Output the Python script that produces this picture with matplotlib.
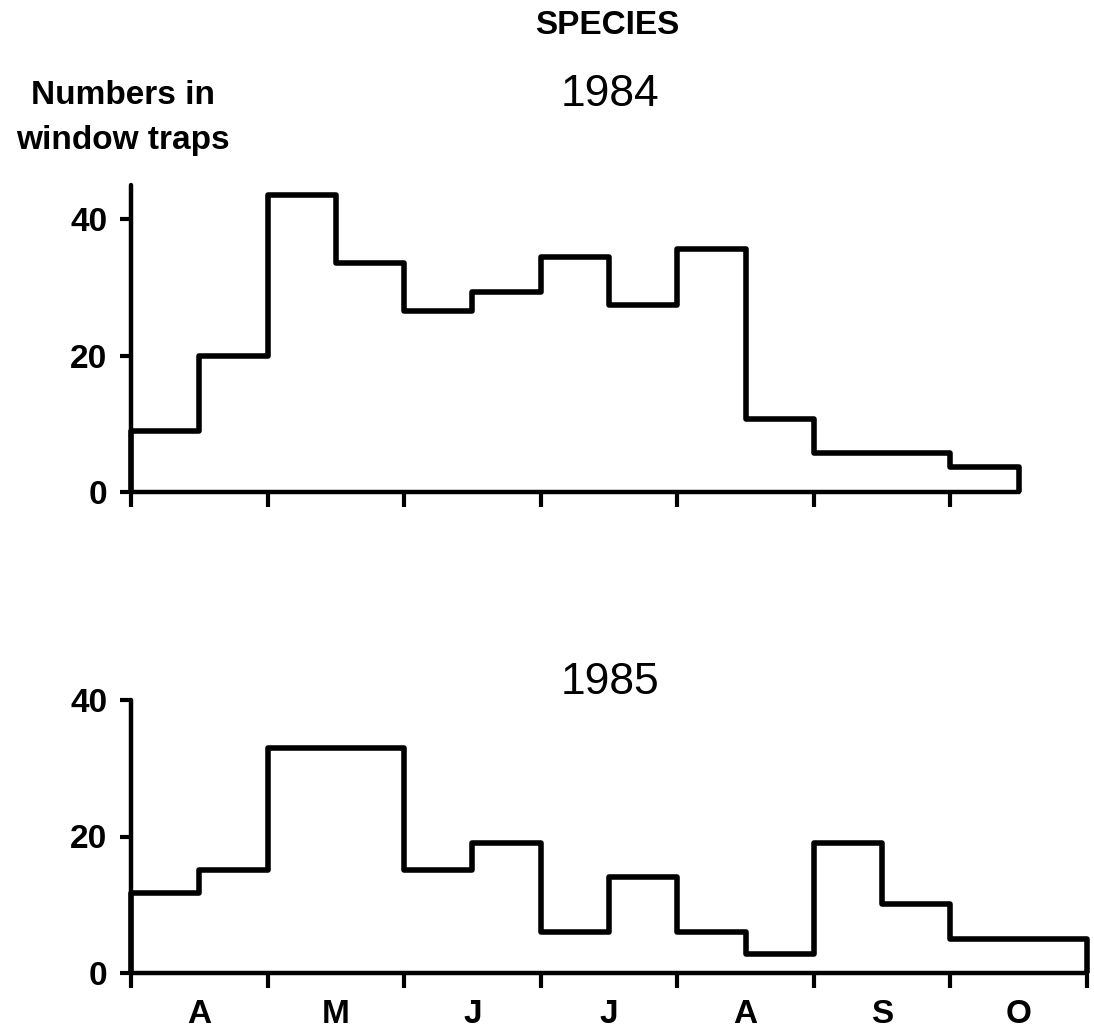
import matplotlib
matplotlib.use('Agg')
import matplotlib.pyplot as plt

# half-month trap counts (bin edges in months from 1 April)
edges_1984 = [0, 0.5, 1, 1.5, 2, 2.5, 3, 3.5, 4, 4.5, 5, 6, 6.5]
counts_1984 = [9, 20, 43.5, 33.5, 26.5, 29.3, 34.4, 27.4, 35.6, 10.7, 5.7, 3.6]

edges_1985 = [0, 0.5, 1, 2, 2.5, 3, 3.5, 4, 4.5, 5, 5.5, 6, 7]
counts_1985 = [11.7, 15.1, 33, 15.1, 19.1, 6, 14.1, 6, 2.8, 19.1, 10.1, 5.0]

months = ['A', 'M', 'J', 'J', 'A', 'S', 'O']
yticks = [0, 20, 40]

plt.rcParams['font.family'] = ['Liberation Sans', 'DejaVu Sans']

W, H = 1094, 1034
fig = plt.figure(figsize=(W / 100, H / 100), dpi=100)

left = 131 / W
width = 956 / W
height = 46 * 6.825 / H
ax_top = fig.add_axes([left, (H - 492) / H, width, height])
ax_bot = fig.add_axes([left, (H - 973) / H, width, height])


def setup_axis(ax, xend, ytop, nticks):
    ax.set_xlim(0, 7)
    ax.set_ylim(0, 46)
    for s in ['top', 'right']:
        ax.spines[s].set_visible(False)
    for s in ['left', 'bottom']:
        ax.spines[s].set_linewidth(3.2)
        ax.spines[s].set_capstyle('round')
    ax.spines['bottom'].set_bounds(0, xend)
    ax.spines['left'].set_bounds(0, ytop)
    ax.set_yticks(yticks)
    ax.set_yticklabels([str(v) for v in yticks], fontsize=24, fontweight='bold')
    ax.set_xticks(range(nticks))
    ax.set_xticklabels([])
    ax.tick_params(axis='y', direction='out', length=8, width=3, pad=9)
    ax.tick_params(axis='x', which='major', direction='out', length=11, width=3)
    ax.patch.set_visible(False)


setup_axis(ax_top, 6.5, 45, 7)
setup_axis(ax_bot, 7, 40, 8)

ax_top.stairs(counts_1984, edges_1984, color='black', lw=4, clip_on=False,
              zorder=3, joinstyle='round')
ax_bot.stairs(counts_1985, edges_1985, color='black', lw=4, clip_on=False,
              zorder=3, joinstyle='round')

# month letters centred between the ticks of the lower panel
ax_bot.set_xticks([m + 0.5 for m in range(7)], minor=True)
ax_bot.set_xticklabels(months, minor=True, fontsize=24, fontweight='bold')
ax_bot.tick_params(axis='x', which='minor', length=0, pad=19)

fig.text(607 / W, 1 - 26 / H, 'SPECIES', ha='center', va='center',
         fontsize=24, fontweight='bold')
fig.text(610 / W, 1 - 95 / H, '1984', ha='center', va='center', fontsize=32)
fig.text(610 / W, 1 - 682 / H, '1985', ha='center', va='center', fontsize=32)
fig.text(123 / W, 1 - 118 / H, 'Numbers in\nwindow traps', ha='center',
         va='center', fontsize=24, fontweight='bold', linespacing=1.55)

fig.savefig('out.png', dpi=100)
